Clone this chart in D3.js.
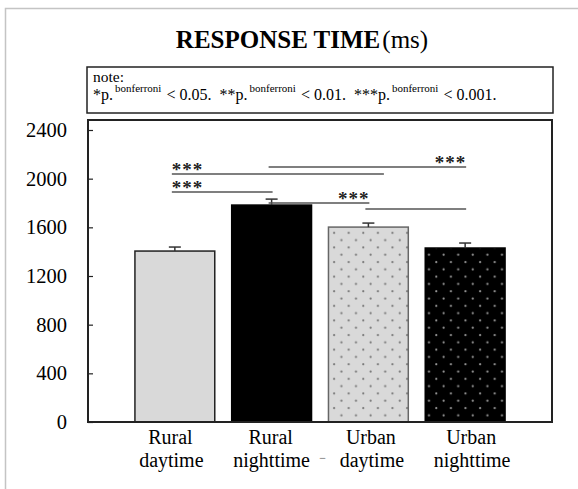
<!DOCTYPE html>
<html>
<head>
<meta charset="utf-8">
<script src="https://cdn.jsdelivr.net/npm/d3@7"></script>
<style>
  body { margin: 0; background: #fff; }
</style>
</head>
<body>
<div id="chart"></div>
<script>
// Input data for the chart
const categories = ["Rural daytime", "Rural nighttime", "Urban daytime", "Urban nighttime"];
const labelLines = [["Rural", "daytime"], ["Rural", "nighttime"], ["Urban", "daytime"], ["Urban", "nighttime"]];
const means = [1405, 1783, 1602, 1430];
const errors = [33, 49, 33, 41];
const yTicks = [0, 400, 800, 1200, 1600, 2000, 2400];

// significance brackets: from/to in category index, level in ms, stars, where the stars sit
const sigFrom = [0, 0, 1, 1, 2];
const sigTo = [2.15, 1, 3, 2, 3];
const sigLevel = [2038, 1890, 2095, 1800, 1750];
const sigStars = ["***", "***", "***", "***", ""];
const sigAlign = ["start", "start", "end", "end", "end"];

const width = 578, height = 489;
const plot = { left: 88, right: 552, top: 120 };

const svg = d3.select("#chart").append("svg")
  .attr("width", width)
  .attr("height", height);

// patterns for the dotted bars
const defs = svg.append("defs");
function dotPattern(id, bg, dot) {
  const p = defs.append("pattern")
    .attr("id", id)
    .attr("patternUnits", "userSpaceOnUse")
    .attr("width", 14.6)
    .attr("height", 14.6)
    .attr("x", 2).attr("y", 3);
  p.append("rect").attr("width", 14.6).attr("height", 14.6).attr("fill", bg);
  p.append("circle").attr("cx", 3.6).attr("cy", 3.6).attr("r", 1.1).attr("fill", dot);
  p.append("circle").attr("cx", 10.9).attr("cy", 10.9).attr("r", 1.1).attr("fill", dot);
}
dotPattern("dotsLight", "#d9d9d9", "#777");
dotPattern("dotsDark", "#000", "#999");

const fills = ["#d9d9d9", "#000", "url(#dotsLight)", "url(#dotsDark)"];
const strokes = ["#222", "#000", "#666", "#000"];

// outer frame (cropped, only left and top visible)
svg.append("path")
  .attr("d", `M5.5,${height} V8.5 H${width}`)
  .attr("fill", "none")
  .attr("stroke", "#c4c4c4")
  .attr("stroke-width", 1.5);

// title
const title = svg.append("text")
  .attr("x", 302)
  .attr("y", 48)
  .attr("text-anchor", "middle");
title.append("tspan").attr("font-weight", "bold").attr("font-size", 25).text("RESPONSE TIME");
title.append("tspan").attr("font-size", 25).attr("dx", 2).text("(ms)");

// note box
svg.append("rect")
  .attr("x", 87).attr("y", 67)
  .attr("width", 466).attr("height", 46)
  .attr("fill", "none")
  .attr("stroke", "#222")
  .attr("stroke-width", 1.5);

svg.append("text")
  .attr("x", 93).attr("y", 82)
  .attr("font-size", 15.5)
  .text("note:");

const note = svg.append("text")
  .attr("x", 93).attr("y", 100)
  .attr("font-size", 16);
const notes = [["*p.", "< 0.05."], ["**p.", "< 0.01."], ["***p.", "< 0.001."]];
notes.forEach((n, i) => {
  note.append("tspan").attr("dx", i === 0 ? 0 : 8).text(n[0]);
  note.append("tspan").attr("font-size", 11).attr("dy", -8).attr("dx", 2).text("bonferroni");
  note.append("tspan").attr("dy", 8).attr("dx", 5).text(n[1]);
});

// scales
const x = d3.scaleBand()
  .domain(categories)
  .range([plot.left, plot.right])
  .paddingInner(0.175)
  .paddingOuter(0.485);

const y = d3.scaleLinear()
  .domain([0, 2400])
  .range([422, 130]);

const center = c => x(c) + x.bandwidth() / 2;

const xIdx = d3.scaleLinear()
  .domain([0, categories.length - 1])
  .range([center(categories[0]), center(categories[categories.length - 1])]);

// category labels sit on a slightly wider spacing than the bars
const xLabel = d3.scalePoint()
  .domain(categories)
  .range([center(categories[0]) - 3.5, center(categories[categories.length - 1]) + 7]);

// bars
svg.append("g").selectAll("rect")
  .data(means)
  .join("rect")
  .attr("x", (d, i) => x(categories[i]))
  .attr("y", d => y(d))
  .attr("width", x.bandwidth())
  .attr("height", d => y(0) - y(d))
  .attr("fill", (d, i) => fills[i])
  .attr("stroke", (d, i) => strokes[i])
  .attr("stroke-width", 1.5);

// error bars (upper only)
const err = svg.append("g").attr("stroke", "#333").attr("stroke-width", 1.5);
means.forEach((m, i) => {
  const cx = center(categories[i]);
  err.append("line")
    .attr("x1", cx).attr("x2", cx)
    .attr("y1", y(m)).attr("y2", y(m + errors[i]));
  err.append("line")
    .attr("x1", cx - 6).attr("x2", cx + 6)
    .attr("y1", y(m + errors[i])).attr("y2", y(m + errors[i]));
});

// plot frame
svg.append("rect")
  .attr("x", plot.left).attr("y", plot.top)
  .attr("width", plot.right - plot.left)
  .attr("height", y(0) - plot.top)
  .attr("fill", "none")
  .attr("stroke", "#222")
  .attr("stroke-width", 2);

// y axis with inward ticks
const yAxis = svg.append("g")
  .attr("transform", `translate(${plot.left},0)`)
  .call(d3.axisRight(y).tickValues(yTicks).tickSize(5).tickFormat(""));
yAxis.select(".domain").remove();
yAxis.selectAll(".tick line").attr("stroke", "#222").attr("stroke-width", 1.2);

svg.append("g").selectAll("text")
  .data(yTicks)
  .join("text")
  .attr("x", 67)
  .attr("y", d => y(d) + 7)
  .attr("text-anchor", "end")
  .attr("font-size", 20.5)
  .text(d => d);

// category labels
const xl = svg.append("g").selectAll("text")
  .data(labelLines)
  .join("text")
  .attr("y", 444)
  .attr("text-anchor", "middle")
  .attr("font-size", 20);
xl.append("tspan").attr("x", (d, i) => xLabel(categories[i]) - 1).text(d => d[0]);
xl.append("tspan").attr("x", (d, i) => xLabel(categories[i])).attr("dy", 23).text(d => d[1]);

// little stray mark after "nighttime" in the original
svg.append("text")
  .attr("x", x(categories[1]) + x.bandwidth() + 11)
  .attr("y", 462)
  .attr("text-anchor", "middle")
  .attr("font-size", 12)
  .attr("fill", "#555")
  .text("\u2212");

// significance lines
const sig = svg.append("g");
sigLevel.forEach((lv, i) => {
  const x1 = xIdx(sigFrom[i]) - 3, x2 = xIdx(sigTo[i]) + 1;
  sig.append("line")
    .attr("x1", x1).attr("x2", x2)
    .attr("y1", y(lv)).attr("y2", y(lv))
    .attr("stroke", "#555")
    .attr("stroke-width", 1.5);
  if (sigStars[i]) {
    sig.append("text")
      .attr("x", sigAlign[i] === "start" ? x1 : x2)
      .attr("y", y(lv) + 2)
      .attr("text-anchor", sigAlign[i])
      .attr("font-size", 19)
      .attr("font-weight", "bold")
      .attr("letter-spacing", 1)
      .attr("fill", "#222")
      .text(sigStars[i]);
  }
});

// serif font on every text
svg.selectAll("text").style("font-family", '"Liberation Serif", serif');
</script>
</body>
</html>
